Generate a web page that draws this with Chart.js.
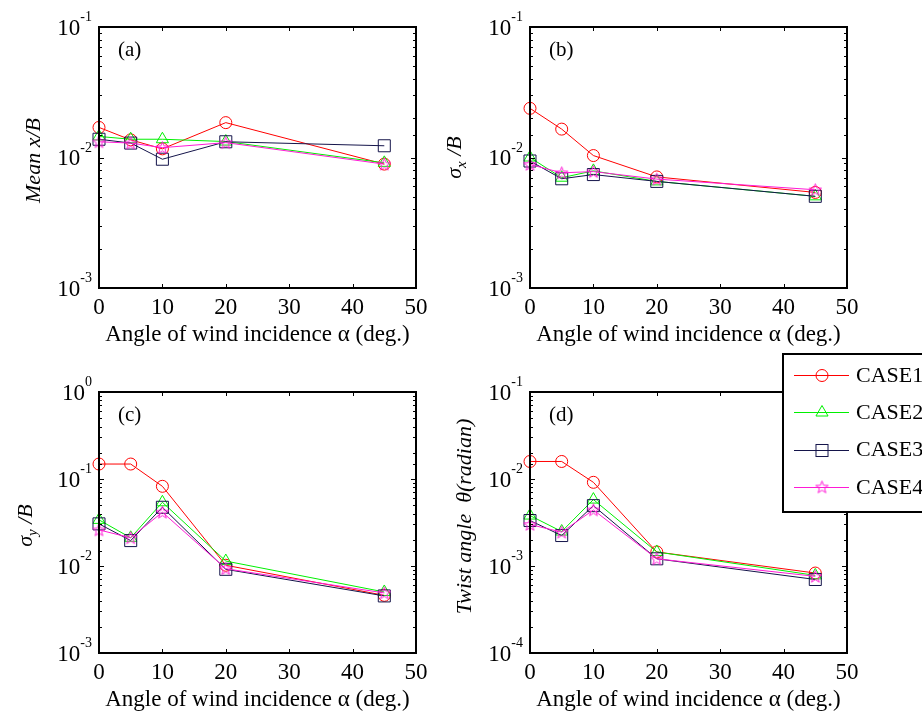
<!DOCTYPE html>
<html>
<head>
<meta charset="utf-8">
<title>Response vs. angle of wind incidence</title>
<script src="https://cdn.jsdelivr.net/npm/chart.js@4.4.0/dist/chart.umd.min.js"></script>
<style>
  html, body { margin: 0; padding: 0; background: #fff; }
  #page { position: relative; width: 922px; height: 713px; overflow: hidden; }
  #page canvas { position: absolute; }
</style>
</head>
<body>
<div id="page">
  <canvas id="panelA" width="460" height="357" style="left:0;top:0"></canvas>
  <canvas id="panelB" width="482" height="357" style="left:440px;top:0"></canvas>
  <canvas id="panelC" width="460" height="368" style="left:0;top:345px"></canvas>
  <canvas id="panelD" width="482" height="368" style="left:440px;top:345px"></canvas>
</div>
<script>
// ---------------------------------------------------------------------------
// Data: one row per case, one column per angle of wind incidence
// ---------------------------------------------------------------------------
const angles = [0, 5, 10, 20, 45];
const caseNames = ['CASE1', 'CASE2', 'CASE3', 'CASE4'];

const meanXB = [
  [0.0170, 0.01365, 0.01165, 0.0185, 0.0089],
  [0.0145, 0.0138, 0.0138, 0.01325, 0.0091],
  [0.0138, 0.0129, 0.0097, 0.0132, 0.0123],
  [0.0132, 0.0129, 0.0119, 0.0130, 0.0089],
];
const sigmaXB = [
  [0.0238, 0.0165, 0.01035, 0.0071, 0.0054],
  [0.0100, 0.0070, 0.0079, 0.00656, 0.00504],
  [0.0094, 0.00687, 0.0074, 0.00656, 0.00504],
  [0.00885, 0.00763, 0.0078, 0.00683, 0.00566],
];
const sigmaYB = [
  [0.1486, 0.1486, 0.0824, 0.0102, 0.0046],
  [0.0339, 0.0211, 0.054, 0.0114, 0.00503],
  [0.0305, 0.0196, 0.0473, 0.00916, 0.00453],
  [0.026, 0.0211, 0.0415, 0.0093, 0.0049],
];
const twistAngle = [
  [0.0159, 0.0159, 0.00916, 0.00145, 0.00083],
  [0.0038, 0.00249, 0.0058, 0.00145, 0.00078],
  [0.00333, 0.00224, 0.00494, 0.00121, 0.0007],
  [0.0030, 0.00245, 0.00441, 0.00121, 0.00076],
];

const xTicks = { min: 0, max: 50, step: 10 };
const xTitle = 'Angle of wind incidence \u03b1 (deg.)';

// ---------------------------------------------------------------------------
// Styles
// ---------------------------------------------------------------------------
const SERIF = '"Liberation Serif", "Times New Roman", serif';
const caseColors = ['#ff0000', '#00f000', '#14144a', '#ff1ad6'];
const caseMarkers = ['circle', 'triangle', 'rect', 'star5'];
const markerRadius = { circle: 6, triangle: 7, rect: 8.5 };

function starPath(ctx, cx, cy, R) {
  const r = R * 0.42;
  ctx.beginPath();
  for (let i = 0; i < 10; i++) {
    const ang = -Math.PI / 2 + i * Math.PI / 5;
    const rad = i % 2 ? r : R;
    const px = cx + rad * Math.cos(ang);
    const py = cy + rad * Math.sin(ang);
    if (i === 0) ctx.moveTo(px, py); else ctx.lineTo(px, py);
  }
  ctx.closePath();
}

// five-point star marker as a small sprite (Chart.js 'star' is an asterisk)
function makeStarSprite(color) {
  const c = document.createElement('canvas');
  c.width = 15; c.height = 15;
  const g = c.getContext('2d');
  g.strokeStyle = color;
  g.lineWidth = 1;
  starPath(g, 7.5, 8, 6.5);
  g.stroke();
  return c;
}
const starSprite = makeStarSprite(caseColors[3]);

function pointStyleFor(i) {
  return caseMarkers[i] === 'star5' ? starSprite : caseMarkers[i];
}

function drawMarker(ctx, i, x, y) {
  const m = caseMarkers[i];
  ctx.save();
  ctx.strokeStyle = caseColors[i];
  ctx.lineWidth = 1;
  if (m === 'circle') {
    ctx.beginPath(); ctx.arc(x, y, markerRadius.circle, 0, Math.PI * 2); ctx.stroke();
  } else if (m === 'triangle') {
    const r = markerRadius.triangle;
    ctx.beginPath();
    ctx.moveTo(x, y - r);
    ctx.lineTo(x + r * Math.sin(Math.PI * 2 / 3), y + r * 0.5);
    ctx.lineTo(x - r * Math.sin(Math.PI * 2 / 3), y + r * 0.5);
    ctx.closePath(); ctx.stroke();
  } else if (m === 'rect') {
    const s = markerRadius.rect * Math.SQRT1_2;
    ctx.strokeRect(x - s, y - s, 2 * s, 2 * s);
  } else {
    ctx.drawImage(starSprite, x - 7.5, y - 8);
  }
  ctx.restore();
}

// ---------------------------------------------------------------------------
// Axis box, inward ticks, 10^n labels, rich y titles and the legend
// ---------------------------------------------------------------------------
const framePlugin = {
  id: 'frame',
  afterDraw(chart, args, opts) {
    const { ctx, chartArea: a } = chart;
    const xs = chart.scales.x;
    const ys = chart.scales.y;
    ctx.save();
    ctx.strokeStyle = '#000';
    ctx.fillStyle = '#000';

    // x ticks, bottom and top
    ctx.lineWidth = 1;
    ctx.beginPath();
    xs.ticks.forEach((t) => {
      const px = Math.round(xs.getPixelForValue(t.value)) + 0.5;
      ctx.moveTo(px, a.bottom); ctx.lineTo(px, a.bottom - 4);
      ctx.moveTo(px, a.top); ctx.lineTo(px, a.top + 4);
    });
    // y ticks, left and right (decades longer)
    ys.ticks.forEach((t) => {
      const lg = Math.log10(t.value);
      const major = Math.abs(lg - Math.round(lg)) < 1e-6;
      const len = major ? 5 : 3;
      const py = Math.round(ys.getPixelForValue(t.value)) + 0.5;
      ctx.moveTo(a.left, py); ctx.lineTo(a.left + len, py);
      ctx.moveTo(a.right, py); ctx.lineTo(a.right - len, py);
    });
    ctx.stroke();

    ctx.lineWidth = 2;
    ctx.strokeRect(a.left, a.top, a.right - a.left, a.bottom - a.top);

    // decade labels 10^n
    ys.ticks.forEach((t) => {
      const lg = Math.log10(t.value);
      if (Math.abs(lg - Math.round(lg)) > 1e-6) return;
      const py = ys.getPixelForValue(t.value);
      const exp = String(Math.round(lg));
      ctx.font = '14px ' + SERIF;
      const ew = ctx.measureText(exp).width;
      const right = a.left - 7;
      ctx.textAlign = 'left';
      ctx.textBaseline = 'alphabetic';
      ctx.fillText(exp, right - ew, py - 6);
      ctx.font = '23px ' + SERIF;
      ctx.textAlign = 'right';
      ctx.fillText('10', right - ew, py + 7.5);
    });

    // y title with optional subscripts, rotated
    const parts = opts.yTitle;
    let total = 0;
    parts.forEach((p) => {
      ctx.font = (p.sub ? 'italic 15px ' : 'italic 22px ') + SERIF;
      total += ctx.measureText(p.text).width;
    });
    ctx.save();
    ctx.translate(opts.yTitleX, (a.top + a.bottom) / 2 + (opts.yTitleShift || 0));
    ctx.rotate(-Math.PI / 2);
    ctx.textAlign = 'left';
    ctx.textBaseline = 'alphabetic';
    let cx = -total / 2;
    parts.forEach((p) => {
      ctx.font = (p.sub ? 'italic 15px ' : 'italic 22px ') + SERIF;
      ctx.fillText(p.text, cx, p.sub ? 5 : 0);
      cx += ctx.measureText(p.text).width;
    });
    ctx.restore();

    // panel tag
    ctx.font = '21px ' + SERIF;
    ctx.textAlign = 'left';
    ctx.textBaseline = 'middle';
    ctx.fillText(opts.tag, a.left + 19, a.top + 23);

    if (opts.legend) {
      const L = opts.legend;
      ctx.fillStyle = '#fff';
      ctx.fillRect(L.x, L.y, L.w, L.h);
      ctx.lineWidth = 2;
      ctx.strokeStyle = '#000';
      ctx.strokeRect(L.x, L.y, L.w, L.h);
      caseNames.forEach((name, i) => {
        const ry = L.y + 21 + i * 37.3;
        ctx.strokeStyle = caseColors[i];
        ctx.lineWidth = 1;
        ctx.beginPath();
        ctx.moveTo(L.x + 11, Math.round(ry) + 0.5);
        ctx.lineTo(L.x + 66, Math.round(ry) + 0.5);
        ctx.stroke();
        drawMarker(ctx, i, L.x + 39, Math.round(ry) + 0.5);
        ctx.fillStyle = '#000';
        ctx.font = '22px ' + SERIF;
        ctx.textAlign = 'left';
        ctx.textBaseline = 'middle';
        ctx.fillText(name, L.x + 73, ry + 1);
      });
    }
    ctx.restore();
  },
};

// ---------------------------------------------------------------------------
// Panel builder
// ---------------------------------------------------------------------------
function buildPanel(id, values, p) {
  const canvas = document.getElementById(id);
  const W = canvas.width;
  const H = canvas.height;
  const datasets = values.map((row, i) => ({
    label: caseNames[i],
    data: angles.map((a, k) => ({ x: a, y: row[k] })),
    borderColor: caseColors[i],
    borderWidth: 1,
    pointStyle: pointStyleFor(i),
    pointRadius: markerRadius[caseMarkers[i]] || 7,
    pointBorderColor: caseColors[i],
    pointBackgroundColor: 'rgba(0,0,0,0)',
    pointBorderWidth: 1,
    tension: 0,
    fill: false,
    clip: false,
    order: caseNames.length - i,
  }));

  return new Chart(canvas, {
    type: 'line',
    data: { datasets },
    options: {
      responsive: false,
      animation: false,
      devicePixelRatio: 1,
      layout: { padding: { left: 0, top: p.area.top, right: W - p.area.right, bottom: 0 } },
      scales: {
        x: {
          type: 'linear',
          min: xTicks.min,
          max: xTicks.max,
          ticks: { stepSize: xTicks.step, color: '#000', font: { family: SERIF, size: 23 }, padding: 6, maxRotation: 0 },
          grid: { display: false, drawTicks: false },
          border: { display: false },
          title: {
            display: true, text: xTitle, color: '#000',
            font: { family: SERIF, size: 23, lineHeight: 1 },
            padding: { top: 0, bottom: p.titlePad },
          },
          afterFit: (s) => { s.height = H - p.area.bottom; },
        },
        y: {
          type: 'logarithmic',
          min: p.yMin,
          max: p.yMax,
          ticks: { display: false },
          grid: { display: false, drawTicks: false },
          border: { display: false },
          afterFit: (s) => { s.width = p.area.left; },
        },
      },
      plugins: {
        legend: { display: false },
        tooltip: { enabled: false },
        frame: {
          tag: p.tag,
          yTitle: p.yTitle,
          yTitleX: p.yTitleX,
          yTitleShift: p.yTitleShift,
          legend: p.legend,
        },
      },
    },
    plugins: [framePlugin],
  });
}

window.addEventListener('DOMContentLoaded', () => {
  buildPanel('panelA', meanXB, {
    area: { left: 99, top: 27, right: 416, bottom: 288 },
    yMin: 1e-3, yMax: 1e-1, titlePad: 10.5, tag: '(a)',
    yTitle: [{ text: 'Mean x/B' }], yTitleX: 40, yTitleShift: 3,
  });
  buildPanel('panelB', sigmaXB, {
    area: { left: 90, top: 27, right: 407, bottom: 288 },
    yMin: 1e-3, yMax: 1e-1, titlePad: 10.5, tag: '(b)',
    yTitle: [{ text: '\u03c3' }, { text: 'x', sub: true }, { text: ' /B' }], yTitleX: 21, yTitleShift: 0,
  });
  buildPanel('panelC', sigmaYB, {
    area: { left: 99, top: 47, right: 416, bottom: 308 },
    yMin: 1e-3, yMax: 1e0, titlePad: 1.5, tag: '(c)',
    yTitle: [{ text: '\u03c3' }, { text: 'y', sub: true }, { text: ' /B' }], yTitleX: 32, yTitleShift: 3,
  });
  buildPanel('panelD', twistAngle, {
    area: { left: 90, top: 47, right: 407, bottom: 308 },
    yMin: 1e-4, yMax: 1e-1, titlePad: 1.5, tag: '(d)',
    yTitle: [{ text: 'Twist angle  \u03b8(radian)' }], yTitleX: 31, yTitleShift: -6,
    legend: { x: 343, y: 9, w: 142, h: 158 },
  });
});
</script>
</body>
</html>
